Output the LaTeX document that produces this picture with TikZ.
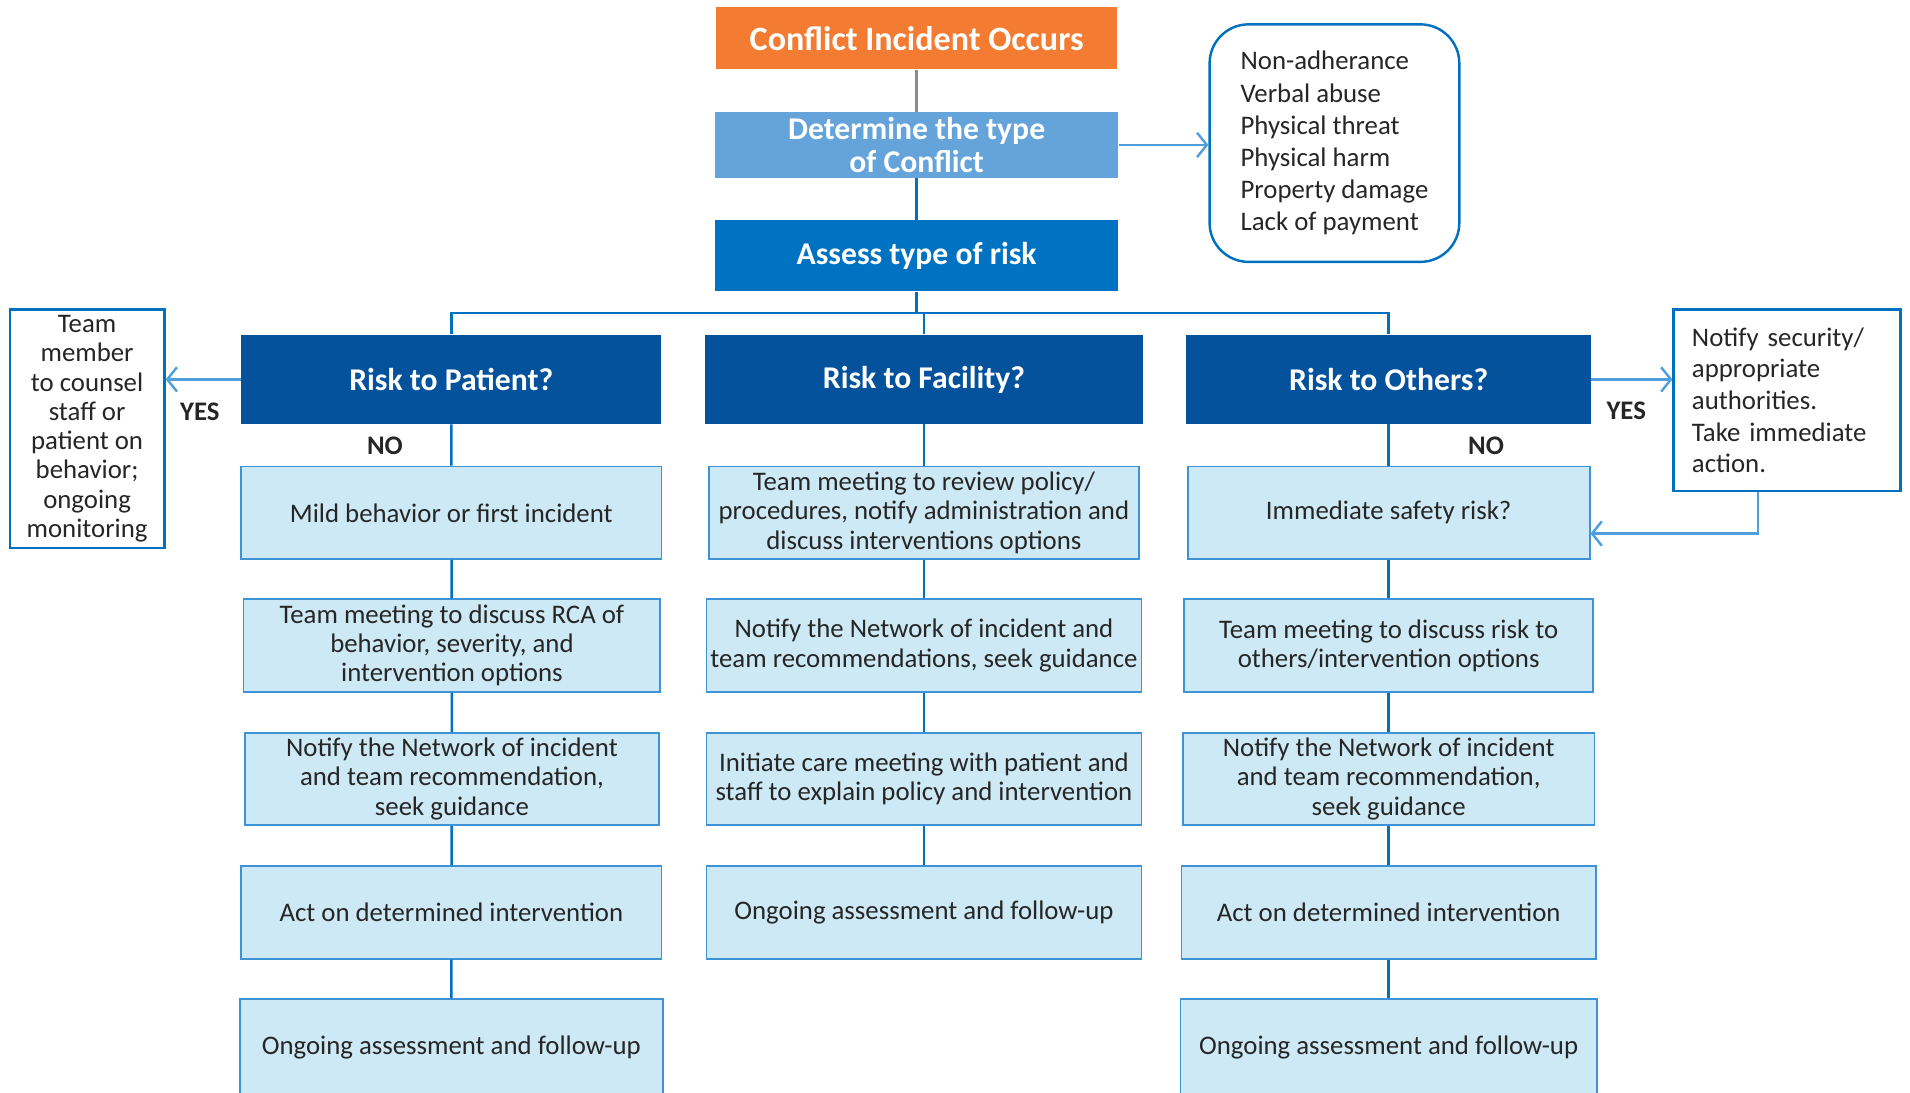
\documentclass[tikz,border=0pt]{standalone}
\usepackage{fontspec}
\setmainfont{Carlito}
\usepackage{tikz}
\usetikzlibrary{arrows.meta}
\definecolor{conflict}{RGB}{243,123,50}
\definecolor{determine}{RGB}{100,164,218}
\definecolor{assess}{RGB}{0,114,194}
\definecolor{risk}{RGB}{3,82,155}
\definecolor{stepfill}{RGB}{205,233,245}
\definecolor{stepline}{RGB}{62,146,214}
\definecolor{link}{RGB}{0,112,192}
\definecolor{yesline}{RGB}{80,158,220}

\begin{document}
\begin{tikzpicture}
[x=0.5pt,y=-0.5pt,
head/.style={rectangle,inner sep=0pt,align=center,text=white,font=\fontsize{13}{13.5}\selectfont\bfseries},
riskbox/.style={head,fill=risk,minimum height=36.5pt},
stepbox/.style={rectangle,draw=stepline,fill=stepfill,line width=0.7pt,inner sep=0pt,align=center,minimum height=38pt,text=black!85,font=\fontsize{11}{12}\selectfont},
sidebox/.style={rectangle,draw=link,fill=white,line width=1pt,text=black!85,font=\fontsize{11}{13}\selectfont},
answer/.style={inner sep=0pt,text=black!85,font=\fontsize{11}{12}\selectfont\bfseries},
wire/.style={draw=link,line width=1pt},
yesarrow/.style={draw=yesline,line width=1pt,-{Straight Barb[length=4pt,width=10pt]}}]
\useasboundingbox (0,0) rectangle (1568,897);
\node[head,fill=conflict,minimum width=164.5pt,minimum height=25.5pt,font=\fontsize{14}{15}\selectfont\bfseries] (occur) at (752.5,31.5) {Conflict Incident Occurs};
\node[head,fill=determine,minimum width=165.5pt,minimum height=27pt] (determine) at (752.5,119) {Determine the type\\of Conflict};
\node[head,fill=assess,minimum width=165.5pt,minimum height=29pt] (assess) at (752.5,210) {Assess type of risk};
\node[sidebox,draw=link,rounded corners=16pt,minimum width=102.5pt,minimum height=97.5pt,inner sep=0pt,align=left,font=\fontsize{11}{13.2}\selectfont] (types) at (1095.5,117.5)
	{Non-adherance\\Verbal abuse\\Physical threat\\Physical harm\\Property damage\\Lack of payment};
\node[riskbox,minimum width=172.5pt] (patient) at (370.5,311.5) {Risk to Patient?};
\node[riskbox,minimum width=179.5pt] (facility) at (758.5,311.5) {Risk to Facility?};
\node[riskbox,minimum width=166pt] (others) at (1140,311.5) {Risk to Others?};
\node[sidebox,minimum width=63.5pt,minimum height=98pt,inner sep=0pt,align=center,font=\fontsize{11}{12}\selectfont] (counsel) at (71.5,352)
	{Team\\member\\to counsel\\staff or\\patient on\\behavior;\\ongoing\\monitoring};
\node[sidebox,minimum height=74.5pt,text width=78pt,inner xsep=7.5pt,align=left] (security) at (1467,328.5)
	{Notify security/\\appropriate\\authorities.\\Take immediate\\action.};
\node[answer] (yesleft) at (164,338) {YES};
\node[answer] (noleft) at (316,366) {NO};
\node[answer] (yesright) at (1335,337) {YES};
\node[answer] (noright) at (1220,366) {NO};
\node[stepbox,minimum width=172.5pt] (mild) at (370.5,421) {Mild behavior or first incident};
\node[stepbox,minimum width=171pt] (rca) at (371,530) {Team meeting to discuss RCA of\\behavior, severity, and\\intervention options};
\node[stepbox,minimum width=170pt] (notifyp) at (371,639.5) {Notify the Network of incident\\and team recommendation,\\seek guidance};
\node[stepbox,minimum width=172.5pt] (actp) at (370.5,749) {Act on determined intervention};
\node[stepbox,minimum width=173.5pt,minimum height=40pt] (ongoingp) at (370.5,860) {Ongoing assessment and follow-up};
\node[stepbox,minimum width=176.5pt] (policy) at (758.5,421) {Team meeting to review policy/\\procedures, notify administration and\\discuss interventions options};
\node[stepbox,minimum width=178.5pt] (notifyf) at (758.5,530) {Notify the Network of incident and\\team recommendations, seek guidance};
\node[stepbox,minimum width=178.5pt] (care) at (758.5,639.5) {Initiate care meeting with patient and\\staff to explain policy and intervention};
\node[stepbox,minimum width=178.5pt] (ongoingf) at (758.5,749) {Ongoing assessment and follow-up};
\node[stepbox,minimum width=165pt] (safety) at (1140,421) {Immediate safety risk?};
\node[stepbox,minimum width=168pt] (othersrisk) at (1140,530) {Team meeting to discuss risk to\\others/intervention options};
\node[stepbox,minimum width=169pt] (notifyo) at (1140,639.5) {Notify the Network of incident\\and team recommendation,\\seek guidance};
\node[stepbox,minimum width=170pt] (acto) at (1140,749) {Act on determined intervention};
\node[stepbox,minimum width=171pt,minimum height=40pt] (ongoingo) at (1140,860) {Ongoing assessment and follow-up};
\coordinate (bus) at (752.5,257);
\draw[draw=black!45,line width=1pt] (occur) -- (determine);
\draw[wire] (determine) -- (assess);
\draw[wire] (assess) -- (bus);
\draw[wire] (bus) -| (patient);
\draw[wire] (bus) -| (others);
\draw[wire] (bus -| facility) -- (facility);
\draw[wire] (patient) -- (mild) -- (rca) -- (notifyp) -- (actp) -- (ongoingp);
\draw[wire] (facility) -- (policy) -- (notifyf) -- (care) -- (ongoingf);
\draw[wire] (others) -- (safety) -- (othersrisk) -- (notifyo) -- (acto) -- (ongoingo);
\draw[yesarrow] (determine.east) -- (determine.east -| types.west);
\draw[yesarrow] (patient.west) -- (patient.west -| counsel.east);
\draw[yesarrow] (others.east) -- (others.east -| security.west);
\draw[yesarrow] ([xshift=-12pt]security.south) |- ([yshift=-8.5pt]safety.east);
\end{tikzpicture}
\end{document}
